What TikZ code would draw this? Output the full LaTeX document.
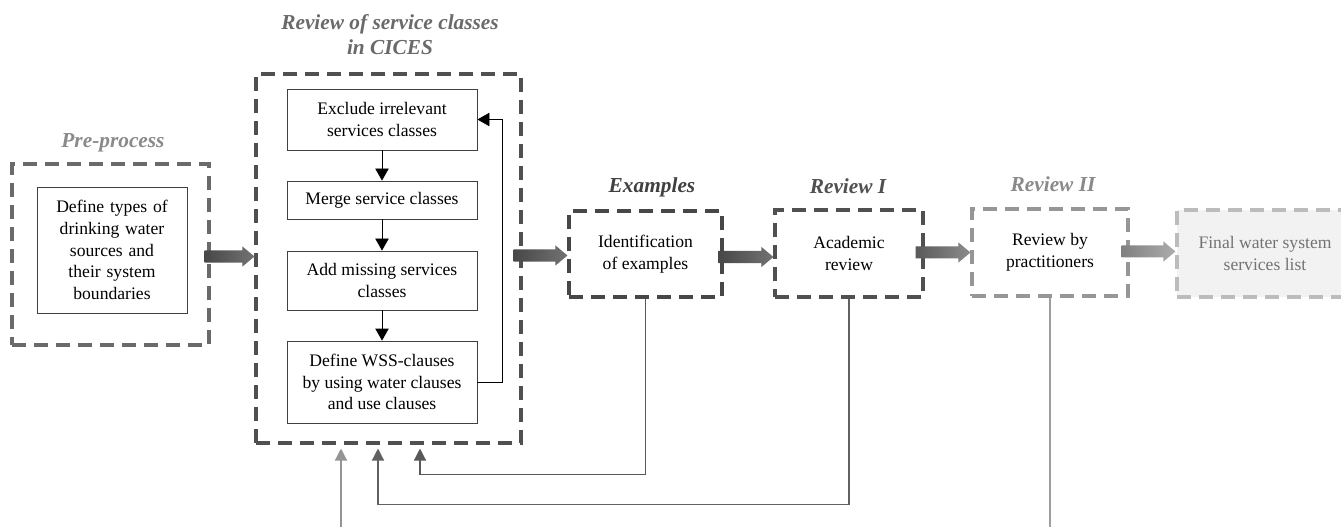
\documentclass[tikz,border=0pt]{standalone}
\usepackage{fontspec}
\setmainfont{Liberation Serif}
\usetikzlibrary{arrows.meta,calc}
\definecolor{dk}{HTML}{505050}
\definecolor{md}{HTML}{6A6A6A}
\definecolor{lt}{HTML}{8A8A8A}
\definecolor{vlt}{HTML}{ABABAB}
\newcommand{\blockarr}[5]{%
  \shade[left color=#3, middle color=#4, right color=#5] let \p1=(#1), \p2=(#2) in
  (\x1,\y1+4.5pt) -- (\x2-9pt,\y1+4.5pt) -- (\x2-9pt,\y1+7.5pt) -- (\x2,\y1) --
  (\x2-9pt,\y1-7.5pt) -- (\x2-9pt,\y1-4.5pt) -- (\x1,\y1-4.5pt) -- cycle;}
\tikzset{
  dbox/.style={draw=#1, line width=2.3pt, dash pattern=on 10.5pt off 6pt, inner sep=0pt, align=center},
  sbox/.style={draw=black!75, line width=0.6pt, minimum width=142.5pt, inner sep=0pt, align=center},
  txt/.style={font=\fontsize{13.2}{16.3}\selectfont},
  ttl/.style={font=\fontsize{16}{18.8}\selectfont\bfseries\itshape, align=center, text=#1},
  inarr/.style={-{Triangle[width=10pt,length=9pt]}, line width=0.6pt, black},
  botarr/.style={-{Triangle[width=9pt,length=9pt]}, line width=1pt, draw=#1, shorten >=3pt},
}
\begin{document}
\begin{tikzpicture}[x=0.75pt,y=-0.75pt]
\useasboundingbox[fill=white] (0,0) rectangle (1341,527);
% Pre-process
\node[dbox=md, minimum width=147.75pt, minimum height=135.75pt] (preout) at (110.5,254.5) {};
\node[sbox, minimum width=112.5pt, minimum height=94.5pt, txt, text width=108pt] (prein) at (112,250) {Define types of\\drinking water\\sources and\\their system\\boundaries};
\node[ttl=lt] (tpre) at (113,143) {Pre-process};
% CICES
\node[dbox=dk, minimum width=198.75pt, minimum height=276.75pt] (cices) at (388.5,258.5) {};
\node[ttl=md] (tcices) at (390,35) {Review of service classes\\in CICES};
\node[sbox, minimum height=45.75pt, txt] (b1) at (382,119.5) {Exclude irrelevant\\services classes};
\node[sbox, minimum height=28.5pt, txt] (b2) at (382,200) {Merge service classes};
\node[sbox, minimum height=44.25pt, txt] (b3) at (382,280.5) {Add missing services\\classes};
\node[sbox, minimum height=61.5pt, txt] (b4) at (382,382) {Define WSS-clauses\\by using water clauses\\and use clauses};
\draw[inarr] (b1) -- (b2);
\draw[inarr] (b2) -- (b3);
\draw[inarr] (b3) -- (b4);
\draw[inarr] (b4.east) -- ++(25,0) |- (b1.east);
% Examples
\node[dbox=black!72, minimum width=114.75pt, minimum height=64.5pt, txt] (ex) at (645.5,254) {Identification\\of examples};
\node[ttl=black!75] (tex) at (652,187) {Examples};
% Review I
\node[dbox=dk, minimum width=111pt, minimum height=65.25pt, txt] (r1) at (849,253.5) {Academic\\review};
\node[ttl=dk] (tr1) at (848,186) {Review I};
% Review II
\node[dbox=lt!90, minimum width=117pt, minimum height=65.25pt, txt] (r2) at (1050,252.5) {Review by\\practitioners};
\node[ttl=lt] (tr2) at (1053,184) {Review II};
% Final
\node[dbox=vlt!80, fill=black!5, minimum width=132pt, minimum height=65.25pt, txt, text=black!55] (fin) at (1265,253.5) {Final water system\\services list};
% block arrows
\blockarr{$(preout.east)+(-6,2)$}{$(cices.west)$}{black!72}{black!12}{black!55}
\blockarr{$(cices.east)+(-9,-3)$}{$(ex.west)+(0,1)$}{black!72}{black!12}{black!55}
\blockarr{$(ex.east)+(-5,3)$}{$(r1.west)$}{black!72}{black!12}{black!55}
\blockarr{$(r1.east)+(-9,-1)$}{$(r2.west)$}{black!65}{black!10}{black!45}
\blockarr{$(r2.east)+(-8,-1)$}{$(fin.west)$}{black!50}{black!8}{black!32}
% bottom connectors
\coordinate (free1) at (341,530);
\coordinate (free2) at (1050,530);
\draw[botarr=black!65] (ex.south) -- ++(0,176) -| ($(cices.south)+(31.5,0)$);
\draw[botarr=black!62] (r1.south) -- ++(0,206) -| ($(cices.south)+(-10.5,0)$);
\draw[botarr=black!42] (free1) -- ($(cices.south)+(-47.5,0)$);
\draw[line width=1pt, black!38] (r2.south) -- (free2);
\end{tikzpicture}
\end{document}
